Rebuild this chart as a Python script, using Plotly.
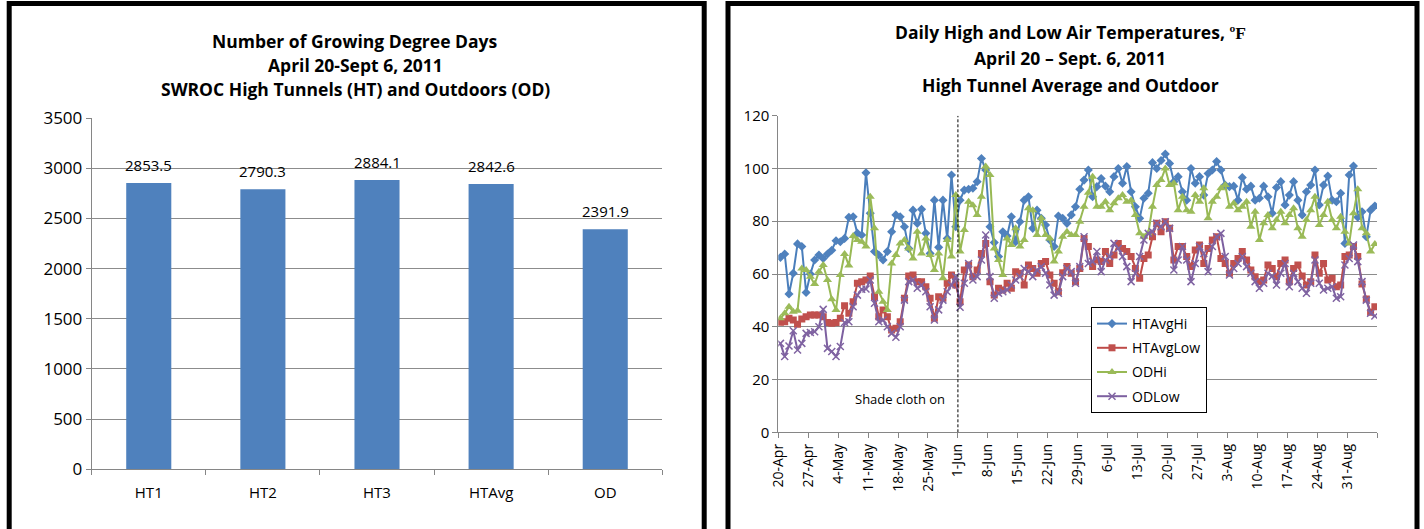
import pandas as pd
import plotly.graph_objects as go

W, H = 1424, 529

# ---- Growing degree days (Apr 20 - Sep 6, 2011) ----
gdd_sites = ["HT1", "HT2", "HT3", "HTAvg", "OD"]
gdd_values = [2853.5, 2790.3, 2884.1, 2842.6, 2391.9]

# ---- Daily air temperatures, deg F, starting 20-Apr-2011 ----
start_date = "2011-04-20"

ht_avg_hi = [
    66.3, 67.6, 52.4, 60.3, 71.4, 70.4, 53.0, 60.0, 65.3, 67.2,
    65.9, 67.6, 69.0, 72.6, 72.2, 73.5, 81.5, 81.7, 75.4, 74.8,
    98.4, 83.0, 68.5, 67.2, 65.3, 68.5, 76.0, 82.4, 81.7, 77.9,
    69.7, 84.2, 79.2, 84.5, 75.4, 67.8, 88.0, 70.1, 88.0, 73.5,
    97.5, 77.9, 88.0, 91.8, 92.1, 92.5, 95.0, 103.8, 99.4, 77.9,
    71.9, 66.6, 76.0, 74.4, 81.7, 72.2, 79.8, 88.0, 89.3, 77.3,
    84.2, 81.1, 78.6, 72.9, 70.4, 82.0, 81.1, 79.2, 82.4, 85.5,
    92.1, 95.6, 99.4, 89.3, 93.1, 96.2, 93.3, 91.2, 96.9, 100.0,
    94.4, 100.7, 91.2, 85.5, 81.1, 88.7, 90.6, 102.2, 100.0, 103.0,
    105.5, 101.9, 95.0, 96.9, 91.2, 88.0, 100.0, 94.4, 96.9, 89.9,
    98.1, 99.4, 102.6, 99.4, 93.7, 93.1, 93.3, 88.0, 96.6, 92.1,
    93.3, 88.0, 88.7, 93.3, 89.3, 83.0, 92.8, 95.0, 86.2, 89.9,
    95.0, 88.0, 82.4, 91.2, 93.7, 99.4, 86.2, 93.7, 97.1, 88.0,
    87.4, 90.6, 71.6, 97.5, 100.9, 81.5, 83.6, 74.1, 84.2, 85.8,
]

ht_avg_low = [
    41.7, 41.9, 43.2, 42.6, 41.0, 42.9, 43.8, 44.5, 44.5, 44.5,
    43.8, 41.6, 41.3, 41.6, 43.2, 48.0, 45.1, 49.5, 56.5, 57.1,
    57.7, 59.2, 51.4, 43.8, 46.4, 43.8, 38.8, 39.4, 41.9, 50.8,
    59.2, 59.6, 57.1, 57.1, 55.2, 50.8, 43.2, 51.4, 50.8, 56.5,
    59.6, 55.8, 49.5, 61.5, 63.4, 59.0, 61.5, 67.8, 71.6, 57.1,
    52.0, 54.6, 53.9, 56.5, 54.6, 60.9, 60.3, 55.8, 63.4, 62.1,
    60.3, 64.0, 64.7, 59.6, 56.5, 53.3, 60.5, 62.8, 60.3, 57.1,
    62.1, 73.5, 70.4, 62.8, 65.3, 64.7, 68.5, 64.0, 67.2, 71.6,
    69.7, 68.5, 66.6, 62.1, 58.4, 65.9, 67.2, 74.1, 79.2, 76.0,
    79.8, 77.3, 65.3, 70.4, 70.4, 66.6, 62.8, 69.1, 71.0, 64.0,
    69.7, 72.9, 74.1, 65.9, 64.0, 60.3, 64.0, 65.9, 68.5, 65.3,
    61.5, 59.0, 57.1, 57.7, 63.4, 62.1, 59.0, 64.0, 65.3, 57.1,
    62.1, 63.4, 59.2, 55.8, 57.1, 67.2, 60.3, 64.0, 57.7, 58.4,
    55.2, 55.8, 66.6, 67.2, 70.4, 66.6, 56.2, 50.5, 45.5, 47.6,
]

od_hi = [
    43.2, 45.1, 47.6, 45.7, 46.1, 62.1, 61.5, 59.0, 56.2, 60.9,
    63.4, 57.7, 50.4, 46.4, 59.6, 67.6, 63.2, 74.4, 72.9, 72.2,
    70.4, 89.3, 77.3, 53.3, 49.5, 46.4, 64.0, 67.2, 71.6, 72.9,
    69.7, 65.9, 76.0, 67.8, 73.5, 67.2, 61.5, 67.8, 58.4, 72.9,
    66.6, 89.9, 68.5, 76.7, 87.4, 86.1, 82.4, 89.3, 100.7, 97.5,
    69.7, 65.3, 59.6, 73.5, 71.0, 77.3, 70.4, 72.9, 84.9, 84.2,
    74.8, 81.1, 74.8, 73.5, 64.7, 68.5, 74.1, 76.0, 74.8, 74.8,
    79.8, 85.5, 90.8, 96.9, 85.5, 85.5, 87.4, 84.2, 86.8, 88.7,
    89.9, 87.4, 88.0, 82.4, 75.4, 74.1, 75.4, 85.5, 93.7, 95.6,
    100.0, 93.7, 94.4, 84.2, 89.3, 84.2, 83.6, 89.9, 87.4, 92.5,
    81.1, 87.4, 89.3, 92.5, 93.7, 85.5, 86.8, 84.2, 85.5, 87.4,
    77.9, 83.6, 72.9, 79.2, 82.4, 77.3, 80.5, 83.6, 79.2, 82.4,
    84.9, 77.3, 74.1, 80.5, 84.2, 89.3, 78.6, 82.4, 87.4, 80.5,
    77.3, 81.7, 76.0, 71.6, 83.0, 92.1, 77.3, 75.4, 68.5, 71.4,
]

od_low = [
    33.7, 28.7, 32.7, 38.5, 31.2, 33.7, 37.5, 37.8, 38.1, 40.0,
    46.6, 31.8, 30.6, 28.7, 32.5, 41.6, 41.9, 47.6, 52.0, 54.2,
    54.3, 57.7, 48.9, 41.9, 42.6, 40.0, 37.5, 36.0, 40.0, 50.1,
    57.1, 57.7, 54.6, 55.8, 53.3, 47.6, 42.6, 46.4, 50.1, 53.3,
    55.8, 59.0, 47.4, 56.5, 64.0, 57.7, 59.0, 65.3, 74.8, 59.0,
    50.8, 52.7, 53.3, 53.9, 55.8, 57.7, 59.0, 62.1, 60.9, 59.0,
    61.5, 62.8, 60.3, 55.8, 52.0, 52.7, 59.0, 62.1, 60.9, 56.5,
    62.8, 74.1, 64.0, 64.7, 68.5, 60.9, 65.3, 66.6, 71.6, 69.7,
    66.6, 62.8, 57.1, 60.3, 66.6, 72.9, 75.4, 76.0, 79.2, 77.9,
    79.8, 77.3, 61.5, 65.3, 70.4, 65.3, 57.1, 64.0, 70.4, 67.8,
    60.9, 70.4, 74.1, 75.4, 66.6, 59.6, 62.1, 64.0, 66.6, 62.8,
    60.3, 57.1, 54.6, 56.5, 60.3, 59.2, 55.8, 60.3, 64.0, 55.2,
    60.3, 57.1, 54.6, 52.7, 56.5, 65.3, 56.5, 53.9, 54.6, 55.2,
    50.8, 51.4, 63.4, 65.9, 71.0, 64.7, 57.1, 50.1, 45.1, 44.1,
]

shade_cloth_date = "2011-06-01"

# each day is plotted at mid-day so points sit between the weekly tick marks
days = pd.date_range(start_date, periods=len(ht_avg_hi), freq="D")
x_days = days + pd.Timedelta(hours=12)
axis_end = days[-1] + pd.Timedelta(days=1)
week_ticks = pd.date_range(start_date, axis_end, freq="7D")
# the closing tick at the end of the axis carries no label
week_labels = [f"{d.day}-{d:%b}" for d in week_ticks[:-1]] + [""]


def px_x(p):
    return p / W


def px_y(p):
    return 1 - p / H


GRID = "#8c8c8c"
AXIS = "#868686"
FONT = "Open Sans"

fig = go.Figure()

# ---- left panel: bar chart ----
fig.add_trace(go.Bar(
    x=gdd_sites, y=gdd_values, xaxis="x", yaxis="y",
    marker=dict(color="#4F81BD", line=dict(width=0)),
    width=0.395, showlegend=False,
))
for site, val in zip(gdd_sites, gdd_values):
    fig.add_annotation(xref="x", yref="y", x=site, y=val, text=f"{val:.1f}",
                       showarrow=False, yanchor="bottom", yshift=6,
                       font=dict(family=FONT, size=15, color="#000"))

# ---- right panel: daily temperatures ----
series = [
    ("HTAvgHi", ht_avg_hi, "#4A7EBB", dict(symbol="diamond", size=7, color="#4F81BD")),
    ("HTAvgLow", ht_avg_low, "#BE4B48", dict(symbol="square", size=7, color="#C0504D")),
    ("ODHi", od_hi, "#98B954", dict(symbol="triangle-up", size=8, color="#9BBB59")),
    ("ODLow", od_low, "#7D60A0", dict(symbol="x-thin", size=7, color="#8064A2",
                                      line=dict(width=1.5, color="#8064A2"))),
]
for name, vals, lc, mk in series:
    fig.add_trace(go.Scatter(
        x=x_days, y=vals, name=name, legendgroup=name, xaxis="x2", yaxis="y2",
        mode="lines+markers", line=dict(color=lc, width=2), marker=mk,
    ))

fig.update_layout(
    width=W, height=H,
    margin=dict(l=0, r=0, t=0, b=0, autoexpand=False),
    paper_bgcolor="white", plot_bgcolor="white",
    font=dict(family=FONT, color="#000"),
    xaxis=dict(
        domain=[px_x(91.7), px_x(662.3)], anchor="y", type="category", automargin=False,
        range=[-0.5, len(gdd_sites) - 0.5],
        showgrid=False, showline=True, linecolor=AXIS, linewidth=1,
        ticks="outside", tickson="boundaries", ticklen=5, tickcolor=AXIS,
        tickfont=dict(family=FONT, size=15), ticklabelstandoff=10,
    ),
    yaxis=dict(
        domain=[px_y(469.3), px_y(118.1)], anchor="x", automargin=False,
        range=[0, 3500], dtick=500, showgrid=True, gridcolor=GRID, gridwidth=1,
        zeroline=False, showline=True, linecolor=AXIS, linewidth=1,
        ticks="outside", ticklen=5, tickcolor=AXIS,
        tickfont=dict(family=FONT, size=17),
    ),
    xaxis2=dict(
        domain=[px_x(778.3), px_x(1377)], anchor="y2", type="date", automargin=False,
        range=[days[0], axis_end],
        tickmode="array", tickvals=week_ticks, ticktext=week_labels, tickangle=-90,
        showgrid=False, showline=True, linecolor=AXIS, linewidth=1,
        ticks="outside", ticklen=5, tickcolor=AXIS,
        tickfont=dict(family=FONT, size=14),
    ),
    yaxis2=dict(
        domain=[px_y(432.3), px_y(115.7)], anchor="x2", automargin=False,
        range=[0, 120], dtick=20, showgrid=True, gridcolor=GRID, gridwidth=1,
        zeroline=False, showline=True, linecolor=AXIS, linewidth=1,
        ticks="outside", ticklen=5, tickcolor=AXIS,
        tickfont=dict(family=FONT, size=15),
    ),
    legend=dict(
        x=px_x(1091), y=px_y(307), xanchor="left", yanchor="top",
        bgcolor="white", bordercolor="#000", borderwidth=1,
        font=dict(family=FONT, size=14, color="#000"),
        tracegroupgap=3, itemwidth=30, traceorder="grouped",
    ),
)

# panel frames
for x0, x1 in [(9.2, 704.2), (728, 1417)]:
    fig.add_shape(type="rect", xref="paper", yref="paper",
                  x0=px_x(x0), x1=px_x(x1), y0=px_y(3.5), y1=px_y(560),
                  line=dict(color="#000", width=5), fillcolor="rgba(0,0,0,0)", layer="above")

# shade cloth marker
fig.add_shape(type="line", xref="x2", yref="y2",
              x0=shade_cloth_date, x1=shade_cloth_date, y0=0, y1=120,
              line=dict(color="#000", width=1, dash="3px,2px"))
fig.add_annotation(xref="x2", yref="paper", x=shade_cloth_date, y=px_y(410),
                   text="Shade cloth on", showarrow=False, xanchor="right", xshift=-11,
                   font=dict(family=FONT, size=13, color="#000"))

# titles
title_font = dict(family=FONT, size=17.5, color="#000")
left_title = ["Number of Growing Degree Days", "April 20-Sept 6, 2011",
              "SWROC High Tunnels (HT) and Outdoors (OD)"]
for line, yc in zip(left_title, [41, 65, 89]):
    fig.add_annotation(xref="paper", yref="paper", x=px_x(355), y=px_y(yc),
                       text=f"<b>{line}</b>", showarrow=False,
                       xanchor="center", yanchor="middle", font=title_font)

right_title = ["Daily High and Low Air Temperatures, <span style=\"font-family:'Liberation Serif'\">ºF</span>",
               "April 20 – Sept. 6, 2011", "High Tunnel Average and Outdoor"]
for line, yc in zip(right_title, [32, 58, 85]):
    fig.add_annotation(xref="paper", yref="paper", x=px_x(1070), y=px_y(yc),
                       text=f"<b>{line}</b>", showarrow=False,
                       xanchor="center", yanchor="middle", font=title_font)

fig.write_html("out.html")
